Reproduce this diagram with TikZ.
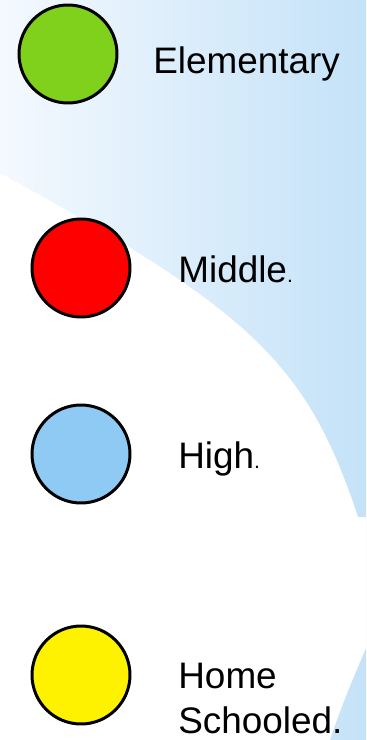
\documentclass[tikz,border=0pt]{standalone}
\usepackage{fontspec}
\setmainfont{Liberation Sans}
\usetikzlibrary{positioning}

\definecolor{skyL}{RGB}{244,249,254}
\definecolor{skyR}{RGB}{196,226,248}
\definecolor{dotgreen}{RGB}{127,209,27}
\definecolor{dotblue}{RGB}{143,202,245}

\begin{document}
\begin{tikzpicture}[x=0.02cm,y=-0.02cm,
    dot/.style={draw,circle,line width=1.7pt,minimum size=1.96cm,inner sep=0pt},
    lbl/.style={anchor=base west,inner sep=0pt,align=left,font=\fontsize{21}{25.5}\selectfont}]
        \useasboundingbox (0,0) rectangle (366,740);
        % background
        \shade[left color=skyL,right color=skyR] (0,0) rectangle (366,740);
        \fill[white] (0,173) .. controls (253,312) and (307,364) .. (358,517)
            -- (366,517) -- (366,648) .. controls (350,685) and (338,715) .. (330,740) -- (0,740) -- cycle;

        \node[dot,fill=dotgreen] (elem) at (68,54) {};
        \node[dot,fill=red] (mid) at (81,268) {};
        \node[dot,fill=dotblue] (high) at (81,454) {};
        \node[dot,fill=yellow] (home) at (81,675) {};

        \node[lbl] (elemtxt) at (153,74) {Elementary};
        \node[lbl] (midtxt) at (178,282) {Middle{\fontsize{12}{12}\selectfont.}};
        \node[lbl] (hightxt) at (178,468) {High{\fontsize{12}{12}\selectfont.}};
        \node[lbl] (hometxt) at (178,733) {Home\\Schooled.};
    \end{tikzpicture}
\end{document}
